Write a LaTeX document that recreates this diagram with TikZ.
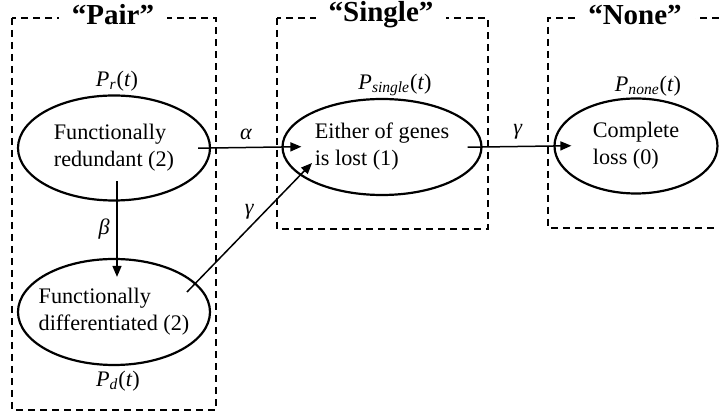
\documentclass[tikz,border=0pt]{standalone}
\usepackage{fontspec}
\setmainfont{LiberationSerif}[Extension=.ttf,UprightFont=*-Regular,BoldFont=*-Bold,ItalicFont=*-Italic,BoldItalicFont=*-BoldItalic]
\usetikzlibrary{shapes.geometric,arrows.meta,calc}
\tikzset{sc/.style={x=.5pt,y=-.5pt,line width=.5pt,font=\fontsize{11.1}{13.5}\selectfont},
  st/.style={ellipse,draw,line width=1.1pt,inner xsep=-6pt,inner ysep=0pt,align=left},
  grp/.style={dash pattern=on 3.5pt off 2.5pt,line width=.7pt},
  ttl/.style={fill=white,inner xsep=6.5pt,inner ysep=1pt,font=\fontsize{14.5}{16}\selectfont\bfseries},
  tr/.style={-{Triangle[length=5.5pt,width=4.5pt]},line width=.75pt}}
\newcommand{\prob}[1]{\textit{P}\textsubscript{\textit{#1}}(\textit{t})}

\begin{document}
\begin{tikzpicture}[sc]
  \useasboundingbox (0,0) rectangle (719,416);
  \draw[grp] (12,18) rectangle (216,410);\draw[grp] (277,18) rectangle (488,229);\draw[grp] (719,18)--(548,18)--(548,228)--(719,228);
  \node[ttl] (tpair) at (113,15){“Pair”};\node[ttl] (tsingle) at (381,15){“Single”};\node[ttl] (tnone) at (635,15){“None”};
  \node[st,minimum width=96pt,minimum height=52.5pt] (pr) at (114,148){Functionally\\redundant (2)};
  \node[st,minimum width=96pt,minimum height=53pt] (pd) at (114,312){Functionally\\differentiated (2)};
  \node[st,minimum width=99.5pt,minimum height=48pt] (single) at (382,147){Either of genes\\is lost (1)};
  \node[st,minimum width=81.5pt,minimum height=47.5pt] (none) at (636,146){Complete\\loss (0)};
  \node (lpr) at (117,81){\prob{r}};\node (lpd) at (118,381){\prob{d}};
  \node (lsingle) at (395,85){\prob{single}};\node (lnone) at (648,86){\prob{none}};
  \draw[tr,shorten <=-6.5pt,shorten >=-10pt] (pr.east)--(single.west) node[midway,above]{\textit{α}};
  \draw[tr,shorten <=-7.5pt,shorten >=-9pt] (single.east)--(none.west) node[midway,above]{\textit{γ}};
  \draw[tr,shorten <=-10.25pt,shorten >=-9.5pt] ($(pr.south)+(3,0)$)--($(pd.north)+(3,0)$) node[pos=.48,left]{\textit{β}};
  \draw[tr] ($(pd)+(73,-20)$)--($(single)+(-70,16)$) node[pos=.62,left=1.5pt]{\textit{γ}};
\end{tikzpicture}
\end{document}
